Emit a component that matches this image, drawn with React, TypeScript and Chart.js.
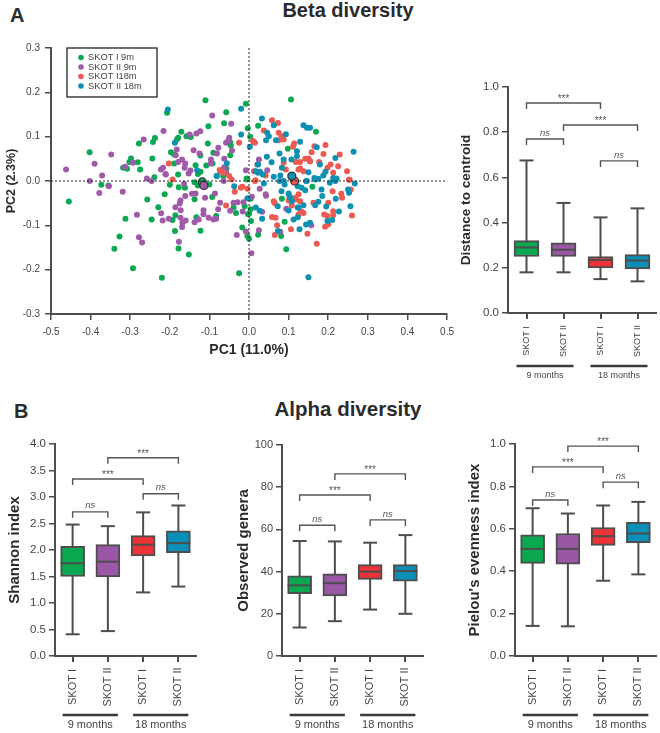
import React, { useEffect, useRef } from "react";
import { Chart, registerables } from "chart.js";

Chart.register(...registerables);

const FONT = "'Liberation Sans', Arial, sans-serif";
const INK = "#454545";
const LINE = "#4d4d4d";

const categories = ["SKOT I", "SKOT II", "SKOT I", "SKOT II"];
const groups = ["9 months", "18 months"];
const boxColors = ["#0aa650", "#9a57a5", "#ee3338", "#0a8fb8"];

const legendLabels = ["SKOT I 9m", "SKOT II 9m", "SKOT I18m", "SKOT II 18m"];
const dotColors = ["#0ca853", "#a05ba8", "#ec5a52", "#0e90b2"];

const green9: number[][] = [
  [-0.4025,0.065],[-0.278,0.0845],[-0.2375,0.097],[-0.2425,0.088],[-0.244,0.051],[-0.298,0.0507],[-0.302,0.043],[-0.281,0.0424],[-0.275,0.026],[-0.318,0.03],[-0.308,0.0275],[-0.239,0.0086],[-0.373,-0.0086],[-0.355,-0.01],
  [-0.455,-0.046],[-0.312,-0.085],[-0.327,-0.125],[-0.34,-0.153],[-0.293,-0.197],[-0.22,-0.218],[-0.025,-0.208],[-0.257,-0.042],[-0.229,-0.059],[-0.246,-0.087],[-0.213,-0.03],[-0.193,-0.088],[-0.186,-0.077],[-0.187,-0.113],[-0.178,-0.152],[-0.152,-0.166],[-0.1225,-0.112],[-0.133,-0.082],[-0.1375,-0.041],[-0.093,-0.036],[-0.2,-0.0086],[-0.179,0.0146],[-0.1775,-0.014],[-0.162,-0.015],[-0.1375,-0.003],[-0.129,-0.01],[-0.1,-0.008],[-0.083,-0.079],[-0.039,-0.06],[-0.033,-0.072],[-0.017,-0.105],[-0.004,-0.124],[0,-0.074],[-0.011,-0.057],
  [-0.11,0.182],[-0.207,0.154],[-0.0575,0.155],[-0.008,0.174],[-0.1025,0.1235],[-0.063,0.13],[-0.003,0.119],[0.023,0.1245],[-0.171,0.111],[-0.179,0.0975],[-0.182,0.0935],[-0.158,0.101],[-0.147,0.0995],[-0.104,0.0845],[-0.197,0.065],[-0.189,0.06],[-0.123,0.0575],[-0.09,0.0636],[-0.046,0.08],[-0.0475,0.0875],[-0.0475,0.058],[0.003,0.1],[-0.189,0.0395],[-0.135,0.0357],[-0.129,0.016],[-0.1225,0.0207],[-0.108,0.035],[-0.092,0.0395],[-0.057,0.0275],[-0.006,0.0056],[-0.065,0.011],
  [0.094,-0.154],[0.023,-0.121],[0.081,-0.124],[0.09,-0.092],[0.083,-0.04],[0.005,-0.09],[-0.0025,-0.075],[0.004,-0.064],[0,-0.13],[-0.004,0.0034],[0.16,-0.013],[0.004,-0.04],[0.169,0.111],[0.106,0.184],[0.098,0.0727],[0.154,0.0447],
];
const purple9: number[][] = [
  [-0.266,0.0935],[-0.348,0.06],[-0.39,0.0387],[-0.462,0.026],[-0.313,0.032],[-0.293,0.041],[-0.258,0.0056],[-0.246,0],[-0.402,0],[-0.371,0.0124],[-0.354,-0.0117],
  [-0.378,-0.027],[-0.319,-0.024],[-0.283,-0.076],[-0.278,-0.127],[-0.27,-0.139],[-0.21,0.0146],[-0.222,-0.073],[-0.218,-0.089],[-0.2025,-0.085],[-0.186,-0.059],[-0.175,-0.051],[-0.173,-0.044],[-0.161,-0.034],[-0.164,-0.006],[-0.1725,-0.066],[-0.173,-0.083],[-0.16,-0.089],[-0.168,-0.094],[-0.169,-0.104],[-0.177,-0.137],[-0.144,-0.029],[-0.135,-0.028],[-0.111,-0.038],[-0.1375,-0.093],[-0.127,-0.087],[-0.115,-0.066],[-0.115,-0.075],[-0.102,-0.083],[-0.09,-0.087],[-0.083,-0.085],[-0.078,-0.064],[-0.073,-0.049],[-0.086,-0.028],[-0.0475,-0.067],[-0.039,-0.049],[-0.029,-0.048],[-0.014,-0.048],[-0.016,-0.069],[-0.031,-0.122],[-0.008,-0.114],
  [-0.093,0.148],[-0.045,0.129],[-0.216,0.113],[-0.123,0.1124],[-0.133,0.107],[-0.15,0.105],[-0.05,0.0975],[-0.058,0.086],[-0.0525,0.09],[-0.14,0.0695],[-0.1825,0.071],[-0.185,0.058],[-0.0775,0.075],[-0.081,0.062],[-0.125,0.062],[-0.043,0.0688],[-0.0625,0.05],[-0.096,0.0485],[-0.097,0.0395],[-0.169,0.0485],[-0.179,0.043],[-0.161,0.0395],[-0.1625,0.03],[-0.217,0.03],[-0.2225,0.026],[-0.148,0.0237],[-0.1525,0.0169],[-0.211,0.016],[-0.0625,0.031],[-0.058,0.02],[-0.008,0.024],[0.025,0.0485],[0.021,0.037],[-0.064,0],
  [0.006,-0.163],[0.025,-0.111],[0.033,-0.0695],[0.157,-0.1],[0.079,-0.1145],[0.094,-0.0627],[0.042,-0.03],[0.027,-0.0176],[0.007,-0.0356],[0.012,0.0875],[0.046,0.024],[0.043,-0.033],
];
const red18: number[][] = [
  [-0.193,0.0034],[-0.058,-0.055],[-0.021,-0.015],[-0.004,-0.0176],[-0.036,-0.024],[-0.05,0.011],[-0.073,0.022],
  [-0.025,0.086],[0.01,0.09],[-0.2025,0.0395],[-0.074,0.025],[-0.044,0.0034],[0.0167,0.0018],[0.015,0.086],[-0.065,0.0185],[-0.017,-0.013],
  [0.058,0.137],[0.073,0.131],[0.0375,0.114],[0.075,0.1087],[0.082,0.101],[0.0875,0.0935],[0.075,0.092],[0.114,0.0845],[0.111,0.077],[0.165,0.0785],[0.193,0.081],[0.158,0.065],[0.188,0.061],[0.229,0.06],[0.142,0.05],[0.15,0.0507],[0.118,0.043],[0.129,0.043],[0.154,0.0447],[0.177,0.043],[0.206,0.037],[0.225,0.0334],[0.2475,0.022],[0.254,0.003],[0.198,0.03],[0.2125,0.0185],[0.129,0.028],[0.1375,0.022],[0.125,0.026],[0.0875,0.041],[0.093,0.026],[0.0125,0.022],[0.042,0.0124],
  [0.0625,-0.0455],[0.065,-0.05],[0.125,-0.03],[0.118,-0.042],[0.129,-0.0455],[0.1625,-0.049],[0.211,-0.023],[0.233,-0.029],[0.235,-0.038],[0.2,-0.049],[0.19,-0.0755],[0.1975,-0.079],[0.2125,-0.068],[0.2125,-0.077],[0.26,-0.078],[0.131,-0.068],[0.1375,-0.072],[0.125,-0.0755],[0.058,-0.081],[0.067,-0.083],[0.071,-0.1],[0.106,-0.109],[0.1475,-0.119],[0.065,-0.122],[0.192,-0.103],[0.171,-0.1415],[0.2,-0.098],[0.108,-0.055],[0.257,-0.019],[0.252,0.003],[0.015,0],[0.1,-0.044],[0.117,-0.038],
];
const teal18: number[][] = [
  [-0.082,0.011],[-0.0375,-0.012],[-0.004,-0.039],[-0.205,0.161],[-0.02,0.163],[-0.02,0.105],[-0.187,0.086],[0.002,0.077],[-0.056,0.04],[-0.131,0.024],[-0.081,0.011],[0.017,0.022],[0.023,0.0185],
  [0.15,-0.217],[0.256,-0.057],[0.267,-0.0056],[0.227,-0.069],[0.21,-0.088],[0.198,-0.09],[0.1275,-0.109],[0.154,-0.094],[0.144,-0.098],[0.073,-0.113],[0.1125,-0.087],[0.123,-0.0815],[0.033,-0.085],[0.017,-0.06],[0.027,-0.067],[0.0725,-0.057],[0.1,-0.0665],[0.123,-0.06],[0.1375,-0.0545],[0.082,-0.023],[0.1,-0.028],[0.104,-0.038],[0.167,-0.0545],[0.175,-0.047],[0.185,-0.034],[0.183,-0.019],[0.219,-0.04],[0.2525,-0.0266],[0.25,-0.019],[0.204,-0.004],[0.221,0.0056],[0.142,-0.021],[0.144,0],[0.133,-0.015],[0.123,-0.012],[0.167,0.0034],[0.077,0],[0.09,-0.008],
  [0.0325,0.141],[0.0625,0.126],[0.046,0.1087],[0.05,0.101],[0.043,0.092],[0.068,0.092],[0.093,0.1056],[0.1375,0.126],[0.146,0.12],[0.154,0.12],[0.129,0.0884],[0.264,0.066],[0.218,0.052],[0.171,0.076],[0.121,0.067],[0.121,0.056],[0.077,0.062],[0.045,0.0545],[0.023,0.037],[0.057,0.0424],[0.0875,0.0485],[0.107,0.0485],[0.0275,0.0207],[0.035,0.0146],[0.0375,-0.0056],[0.0625,0.0095],[0.079,0.0124],[0.083,0.03],[0.0875,0],[0.15,0.02],[0.165,0.007],[0.175,0.005],[0.1875,0.0124],[0.193,0.0207],[0.179,0.037],[0.2125,0.007],[0.218,0],[0.146,0],[0.102,-0.034],[0.108,-0.0455],[0.125,-0.06],[0.195,-0.0575],
];
const centroids: number[][] = [[-0.118,-0.002],[-0.114,-0.01],[0.115,0],[0.108,0.011]];

const xTicksScatter = { min: -0.5, max: 0.5, step: 0.1 };
const yTicksScatter = { min: -0.3, max: 0.3, step: 0.1 };

const distanceMax = [0.675, 0.487, 0.423, 0.463];
const distanceQ3 = [0.32, 0.31, 0.25, 0.258];
const distanceMed = [0.29, 0.28, 0.235, 0.232];
const distanceQ1 = [0.25, 0.25, 0.2, 0.195];
const distanceMin = [0.18, 0.18, 0.15, 0.14];
const distanceBrackets: [number, number, number, string][] = [[0, 2, 0.929, "***"], [1, 3, 0.832, "***"], [0, 1, 0.77, "ns"], [2, 3, 0.673, "ns"]];

const shannonMax = [2.48, 2.45, 2.71, 2.84];
const shannonQ3 = [2.07, 2.1, 2.27, 2.36];
const shannonMed = [1.75, 1.78, 2.1, 2.13];
const shannonQ1 = [1.5, 1.49, 1.89, 1.95];
const shannonMin = [0.41, 0.47, 1.2, 1.31];
const shannonBrackets: [number, number, number, string][] = [[1, 3, 3.74, "***"], [0, 2, 3.34, "***"], [0, 1, 2.72, "ns"], [2, 3, 3.06, "ns"]];

const generaMax = [54.5, 54.3, 53.7, 57.3];
const generaQ3 = [38, 39, 43.3, 43.3];
const generaMed = [33.5, 34.5, 40, 40.3];
const generaQ1 = [29.5, 28.5, 36.3, 35.5];
const generaMin = [13.5, 16.5, 22, 20];
const generaBrackets: [number, number, number, string][] = [[1, 3, 86.3, "***"], [0, 2, 76.3, "***"], [0, 1, 62, "ns"], [2, 3, 64.5, "ns"]];

const pielouMax = [0.697, 0.672, 0.71, 0.727];
const pielouQ3 = [0.572, 0.578, 0.606, 0.63];
const pielouMed = [0.505, 0.505, 0.565, 0.578];
const pielouQ1 = [0.437, 0.433, 0.522, 0.535];
const pielouMin = [0.142, 0.14, 0.355, 0.385];
const pielouBrackets: [number, number, number, string][] = [[1, 3, 0.99, "***"], [0, 2, 0.892, "***"], [0, 1, 0.736, "ns"], [2, 3, 0.82, "ns"]];

type BoxSpec = {
  title: string; yMax: number; step: number; decimals: number;
  max: number[]; q3: number[]; med: number[]; q1: number[]; min: number[];
  brackets: [number, number, number, string][];
  box: { left: number; top: number; width: number; height: number };
  area: { left: number; top: number; right: number; bottom: number };
  titleX: number; titleSize: number; tickSize: number; catSize: number; groupSize: number;
  barW: number; labelDy: number; lineDy: number; groupDy: number;
};

const axisBase = {
  border: { display: true, color: LINE, width: 2 },
};

function drawBoxExtras(chart: any, spec: BoxSpec, phase: "under" | "over") {
  const { ctx, scales } = chart;
  const x = scales.x, y = scales.y;
  ctx.save();
  ctx.strokeStyle = LINE;
  ctx.lineWidth = 2;
  const seg = (a: number, b: number, c: number, d: number) => {
    ctx.beginPath(); ctx.moveTo(a, b); ctx.lineTo(c, d); ctx.stroke();
  };
  spec.max.forEach((_, i) => {
    const px = x.getPixelForValue(i);
    if (phase === "under") {
      seg(px, y.getPixelForValue(spec.max[i]), px, y.getPixelForValue(spec.min[i]));
      seg(px - 7, y.getPixelForValue(spec.max[i]), px + 7, y.getPixelForValue(spec.max[i]));
      seg(px - 7, y.getPixelForValue(spec.min[i]), px + 7, y.getPixelForValue(spec.min[i]));
    } else {
      const half = spec.barW / 2;
      seg(px - half, y.getPixelForValue(spec.med[i]), px + half, y.getPixelForValue(spec.med[i]));
    }
  });
  if (phase === "over") {
    ctx.lineWidth = 1.4;
    ctx.strokeStyle = "#555";
    ctx.fillStyle = "#555";
    ctx.textAlign = "center";
    ctx.textBaseline = "middle";
    spec.brackets.forEach(([a, b, v, label]) => {
      const xa = x.getPixelForValue(a), xb = x.getPixelForValue(b), py = y.getPixelForValue(v);
      ctx.beginPath();
      ctx.moveTo(xa, py + 6); ctx.lineTo(xa, py); ctx.lineTo(xb, py); ctx.lineTo(xb, py + 6);
      ctx.stroke();
      const isNs = label === "ns";
      ctx.font = isNs ? `italic 9.5px ${FONT}` : `10px ${FONT}`;
      ctx.fillText(label, (xa + xb) / 2, py - (isNs ? 6 : 4));
    });
    const base = chart.chartArea.bottom;
    ctx.fillStyle = INK;
    ctx.font = `${spec.catSize}px ${FONT}`;
    spec.max.forEach((_, i) => {
      ctx.save();
      ctx.translate(x.getPixelForValue(i), base + spec.labelDy);
      ctx.rotate(-Math.PI / 2);
      ctx.fillText(categories[i], 0, 0);
      ctx.restore();
    });
    groups.forEach((g, k) => {
      const a = x.getPixelForValue(k * 2), b = x.getPixelForValue(k * 2 + 1);
      ctx.strokeStyle = "#3a3a3a";
      ctx.lineWidth = 2.5;
      seg(a - 10, base + spec.lineDy, b + 10, base + spec.lineDy);
      ctx.font = `${spec.groupSize}px ${FONT}`;
      ctx.fillText(g, (a + b) / 2, base + spec.groupDy);
    });
  }
  ctx.restore();
}

const boxSpecs: BoxSpec[] = [
  { title: "Distance to centroid", yMax: 1, step: 0.2, decimals: 1, max: distanceMax, q3: distanceQ3, med: distanceMed, q1: distanceQ1, min: distanceMin, brackets: distanceBrackets,
    box: { left: 450, top: 70, width: 210, height: 320 }, area: { left: 508, top: 87, right: 656, bottom: 313 }, titleX: 16, titleSize: 13.6, tickSize: 11.5, catSize: 9, groupSize: 9, barW: 25, labelDy: 28, lineDy: 53, groupDy: 63 },
  { title: "Shannon index", yMax: 4, step: 0.5, decimals: 1, max: shannonMax, q3: shannonQ3, med: shannonMed, q1: shannonQ1, min: shannonMin, brackets: shannonBrackets,
    box: { left: 0, top: 430, width: 220, height: 303 }, area: { left: 55, top: 444, right: 196, bottom: 656 }, titleX: 15, titleSize: 15, tickSize: 11.5, catSize: 11, groupSize: 11, barW: 24, labelDy: 31, lineDy: 59, groupDy: 69 },
  { title: "Observed genera", yMax: 100, step: 20, decimals: 0, max: generaMax, q3: generaQ3, med: generaMed, q1: generaQ1, min: generaMin, brackets: generaBrackets,
    box: { left: 220, top: 430, width: 220, height: 303 }, area: { left: 282, top: 445, right: 423, bottom: 656 }, titleX: 24, titleSize: 15, tickSize: 11, catSize: 11, groupSize: 11, barW: 24, labelDy: 31, lineDy: 59, groupDy: 69 },
  { title: "Pielou's evenness index", yMax: 1, step: 0.2, decimals: 1, max: pielouMax, q3: pielouQ3, med: pielouMed, q1: pielouQ1, min: pielouMin, brackets: pielouBrackets,
    box: { left: 440, top: 430, width: 220, height: 303 }, area: { left: 515, top: 444, right: 656, bottom: 656 }, titleX: 35, titleSize: 15, tickSize: 11.5, catSize: 11, groupSize: 11, barW: 24, labelDy: 31, lineDy: 59, groupDy: 69 },
];

const scatterBox = { left: 0, top: 30, width: 460, height: 335 };
const scatterArea = { left: 51, top: 48, right: 450, bottom: 314 };

function makeBoxChart(canvas: HTMLCanvasElement, spec: BoxSpec) {
  const { box, area } = spec;
  return new Chart(canvas, {
    type: "bar",
    data: {
      labels: categories,
      datasets: [{
        data: spec.q1.map((v, i) => [v, spec.q3[i]]),
        backgroundColor: boxColors,
        borderColor: LINE,
        borderWidth: 2,
        borderSkipped: false,
        barThickness: spec.barW,
      } as any],
    },
    options: {
      animation: false, responsive: false,
      layout: { padding: { left: 0, top: area.top - box.top, right: box.left + box.width - area.right, bottom: 0 } },
      plugins: { legend: { display: false }, tooltip: { enabled: false } },
      scales: {
        x: {
          ...axisBase, offset: true,
          afterFit: (s: any) => { s.height = box.top + box.height - area.bottom; },
          grid: { drawOnChartArea: false, offset: false, tickLength: 6, tickColor: LINE, lineWidth: 2 },
          ticks: { display: false },
        },
        y: {
          ...axisBase, min: 0, max: spec.yMax,
          afterFit: (s: any) => { s.width = area.left - box.left; },
          grid: { drawOnChartArea: false, tickLength: 6, tickColor: LINE, lineWidth: 1.5 },
          ticks: { stepSize: spec.step, color: INK, padding: 3, font: { family: FONT, size: spec.tickSize }, callback: (v: any) => Number(v).toFixed(spec.decimals) },
          title: { display: true, text: spec.title, color: "#2b2b2b", font: { family: FONT, size: spec.titleSize, weight: "bold" }, padding: { top: spec.titleX - spec.titleSize * 0.6, bottom: 0 } },
        },
      },
    } as any,
    plugins: [{
      id: "boxExtras",
      beforeDatasetsDraw: (c: any) => drawBoxExtras(c, spec, "under"),
      afterDatasetsDraw: (c: any) => drawBoxExtras(c, spec, "over"),
    }],
  });
}

function makeScatter(canvas: HTMLCanvasElement) {
  const dot = (label: string, pts: number[][], color: string, order: number) => ({
    label, order, data: pts.map(([x, y]) => ({ x, y })), backgroundColor: color, borderWidth: 0, pointRadius: 3, showLine: false,
  });
  const centroid = (i: number) => ({
    label: "centroid", order: 3 - i, data: [{ x: centroids[i][0], y: centroids[i][1] }], backgroundColor: dotColors[i], borderColor: "#333", borderWidth: 1.2, pointRadius: 4, showLine: false,
  });
  return new Chart(canvas, {
    type: "scatter",
    data: {
      datasets: [
        dot(legendLabels[0], green9, dotColors[0], 13),
        dot(legendLabels[1], purple9, dotColors[1], 12),
        dot(legendLabels[2], red18, dotColors[2], 11),
        dot(legendLabels[3], teal18, dotColors[3], 10),
        centroid(0), centroid(1), centroid(2), centroid(3),
      ],
    },
    options: {
      animation: false, responsive: false,
      layout: { padding: { left: 0, top: scatterArea.top - scatterBox.top, right: scatterBox.left + scatterBox.width - scatterArea.right, bottom: 0 } },
      plugins: { legend: { display: false }, tooltip: { enabled: false } },
      scales: {
        x: {
          ...axisBase, type: "linear", min: xTicksScatter.min, max: xTicksScatter.max,
          afterFit: (s: any) => { s.height = scatterBox.top + scatterBox.height - scatterArea.bottom; },
          grid: { drawOnChartArea: false, tickLength: 6, tickColor: LINE, lineWidth: 1.5 },
          ticks: { stepSize: xTicksScatter.step, color: INK, padding: 6, maxRotation: 0, font: { family: FONT, size: 10 }, callback: (v: any) => Number(v).toFixed(1) },
          title: { display: true, text: "PC1 (11.0%)", color: "#2b2b2b", font: { family: FONT, size: 14, weight: "bold" }, padding: { top: 0, bottom: 6 } },
        },
        y: {
          ...axisBase, min: yTicksScatter.min, max: yTicksScatter.max,
          afterFit: (s: any) => { s.width = scatterArea.left - scatterBox.left; },
          grid: { drawOnChartArea: false, tickLength: 6, tickColor: LINE, lineWidth: 1.5 },
          ticks: { stepSize: yTicksScatter.step, color: INK, padding: 5, font: { family: FONT, size: 10 }, callback: (v: any) => Number(v).toFixed(1) },
          title: { display: true, text: "PC2 (2.3%)", color: "#2b2b2b", font: { family: FONT, size: 12.5, weight: "bold" }, padding: { top: 4, bottom: 0 } },
        },
      },
    } as any,
    plugins: [{
      id: "scatterExtras",
      afterDatasetsDraw: (c: any) => {
        const { ctx, scales, chartArea } = c;
        ctx.save();
        ctx.strokeStyle = "#222";
        ctx.lineWidth = 1;
        ctx.setLineDash([2, 2]);
        ctx.beginPath();
        const x0 = scales.x.getPixelForValue(0), y0 = scales.y.getPixelForValue(0);
        ctx.moveTo(x0, chartArea.top); ctx.lineTo(x0, chartArea.bottom);
        ctx.moveTo(chartArea.left, y0); ctx.lineTo(chartArea.right, y0);
        ctx.stroke();
        ctx.setLineDash([]);
        // legend box
        const lx = 67, ly = 48 - scatterBox.top;
        ctx.fillStyle = "#fff";
        ctx.strokeStyle = "#333";
        ctx.lineWidth = 1.4;
        ctx.fillRect(lx, ly, 90, 49);
        ctx.strokeRect(lx, ly, 90, 49);
        ctx.font = `9.3px ${FONT}`;
        ctx.textAlign = "left";
        ctx.textBaseline = "middle";
        legendLabels.forEach((t, i) => {
          const yy = ly + 9.5 + i * 9.5;
          ctx.fillStyle = dotColors[i];
          ctx.beginPath(); ctx.arc(81, yy, 2.8, 0, Math.PI * 2); ctx.fill();
          ctx.fillStyle = INK;
          ctx.fillText(t, 88, yy);
        });
        ctx.restore();
      },
    }],
  });
}

const heading: React.CSSProperties = { position: "absolute", fontFamily: FONT, fontWeight: "bold", color: "#2b2b2b", lineHeight: 1, whiteSpace: "nowrap" };

export default function App() {
  const scatterRef = useRef<HTMLCanvasElement>(null);
  const boxRefs = useRef<(HTMLCanvasElement | null)[]>([]);
  useEffect(() => {
    const charts = [makeScatter(scatterRef.current!), ...boxSpecs.map((s, i) => makeBoxChart(boxRefs.current[i]!, s))];
    return () => charts.forEach((c) => c.destroy());
  }, []);
  const abs = (b: { left: number; top: number; width: number; height: number }): React.CSSProperties => ({ position: "absolute", left: b.left, top: b.top, width: b.width, height: b.height });
  return (
    <div style={{ position: "fixed", left: 0, top: 0, width: 660, height: 733, background: "#fff", overflow: "hidden" }}>
      <canvas ref={scatterRef} width={scatterBox.width} height={scatterBox.height} style={abs(scatterBox)} />
      {boxSpecs.map((s, i) => (
        <canvas key={s.title} ref={(el) => { boxRefs.current[i] = el; }} width={s.box.width} height={s.box.height} style={abs(s.box)} />
      ))}
      <div style={{ ...heading, left: 10, top: 5, fontSize: 20 }}>A</div>
      <div style={{ ...heading, left: 14, top: 401, fontSize: 20 }}>B</div>
      <div style={{ ...heading, left: 348, top: 0, fontSize: 20, transform: "translateX(-50%)" }}>Beta diversity</div>
      <div style={{ ...heading, left: 348, top: 399, fontSize: 20.5, transform: "translateX(-50%)" }}>Alpha diversity</div>
    </div>
  );
}
